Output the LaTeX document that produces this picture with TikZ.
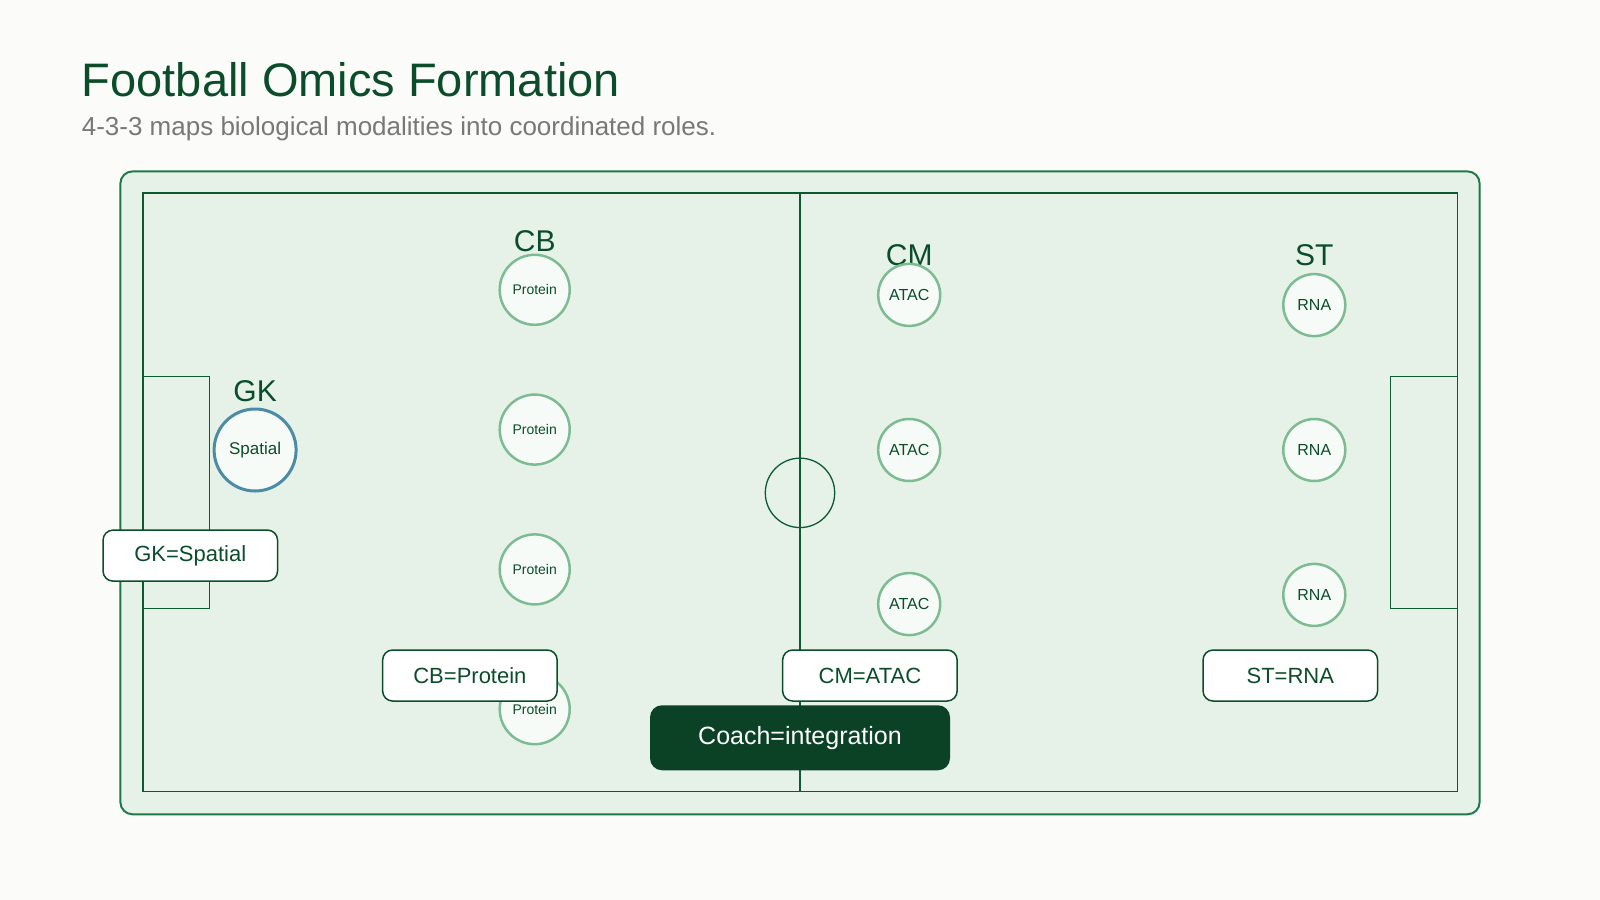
\documentclass[tikz,border=0pt]{standalone}
\usepackage{fontspec}
\setmainfont{Liberation Sans}
\begin{document}
\begin{tikzpicture}[x=1.0204pt,y=-1.0204pt,
  dg/.style={color={rgb,255:red,11;green,77;blue,42}},
  player/.style={circle,draw={rgb,255:red,125;green,187;blue,147},line width=2.5pt,fill={rgb,255:red,247;green,251;blue,248},inner sep=0pt,text={rgb,255:red,11;green,77;blue,42}},
  role/.style={font=\fontsize{30}{32}\selectfont,text={rgb,255:red,11;green,77;blue,42}},
  tag/.style={draw={rgb,255:red,11;green,77;blue,42},line width=1.5pt,fill=white,rounded corners=10pt,minimum width=174.5pt,minimum height=51pt,font=\fontsize{22}{25}\selectfont,text={rgb,255:red,11;green,77;blue,42}},
  line/.style={draw={rgb,255:red,11;green,90;blue,50},line width=1.3pt}]
\fill[fill={rgb,255:red,251;green,252;blue,250}] (0,0) rectangle (1568,882);
\useasboundingbox (0,0) rectangle (1568,882);
\node[anchor=base west,inner sep=0pt,font=\fontsize{47}{50}\selectfont,dg] (title) at (80,95) {Football Omics Formation};
\node[anchor=base west,inner sep=0pt,font=\fontsize{26}{30}\selectfont,text={rgb,255:red,120;green,120;blue,120}] (sub) at (80,133) {4-3-3 maps biological modalities into coordinated roles.};
\draw[fill={rgb,255:red,230;green,242;blue,232},draw={rgb,255:red,30;green,122;blue,74},line width=2pt,rounded corners=12pt] (118,168) rectangle (1450,798);
\draw[line] (140,189) rectangle (1428,776);
\draw[line] (784,189) -- (784,776);
\draw[line] (784,483) circle (34);
\draw[line] (140,369) -- (205,369) -- (205,596) -- (140,596);
\draw[line] (1428,369) -- (1363,369) -- (1363,596) -- (1428,596);
\node[role] (lcb) at (524,236) {CB};
\node[role] (lcm) at (891,250) {CM};
\node[role] (lst) at (1288,250) {ST};
\node[role] (lgk) at (250,383) {GK};
\node[player,draw={rgb,255:red,74;green,140;blue,168},line width=3pt,minimum size=82pt,font=\fontsize{17}{20}\selectfont] (gk) at (250,441) {Spatial};
\foreach \y [count=\i] in {284,421,558,695}
  \node[player,minimum size=70pt,font=\fontsize{14}{16}\selectfont] (cb\i) at (524,\y) {Protein};
\foreach \y [count=\i] in {289,441,592}
  \node[player,minimum size=62pt,font=\fontsize{16}{18}\selectfont] (cm\i) at (891,\y) {ATAC};
\foreach \y [count=\i] in {299,441,583}
  \node[player,minimum size=62pt,font=\fontsize{16}{18}\selectfont] (st\i) at (1288,\y) {RNA};
\node[tag] (tgk) at (186.5,544.5) {GK=Spatial};
\node[tag] (tcb) at (460.5,662) {CB=Protein};
\node[tag] (tcm) at (852.5,662) {CM=ATAC};
\node[tag] (tst) at (1264.5,662) {ST=RNA};
\node[fill={rgb,255:red,11;green,66;blue,37},rounded corners=12pt,minimum width=300pt,minimum height=65pt,text=white,font=\fontsize{25}{28}\selectfont] (coach) at (784,723) {Coach=integration};
\end{tikzpicture}
\end{document}
